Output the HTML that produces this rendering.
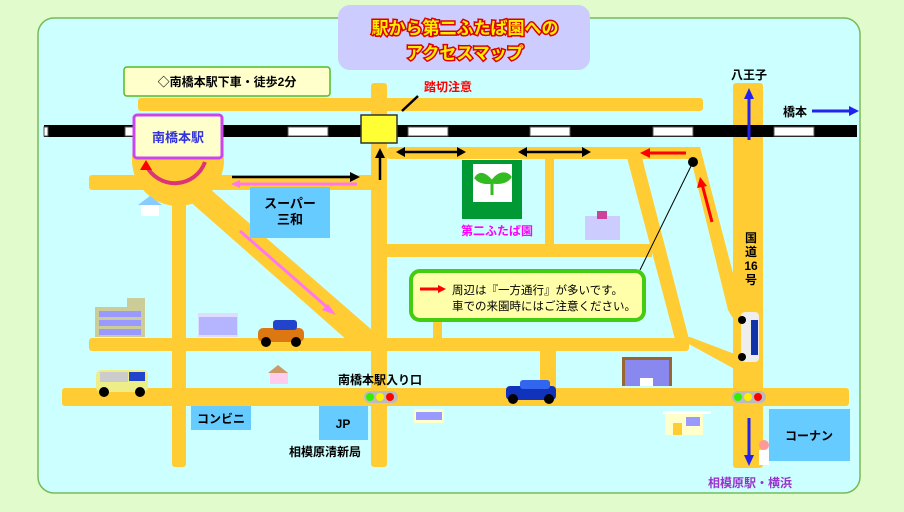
<!DOCTYPE html><html><head><meta charset="utf-8"><style>
body{margin:0;width:904px;height:507px;overflow:hidden;background:#e2fbcc;font-family:"Liberation Sans","Noto Sans CJK JP",sans-serif}
svg text{font-family:"Liberation Sans","Noto Sans CJK JP",sans-serif;font-weight:bold}
</style></head><body>
<svg width="904" height="507" viewBox="0 0 904 507" xmlns="http://www.w3.org/2000/svg">
<rect x="0" y="0" width="904" height="507" fill="#e2fbcc"/>
<rect x="38" y="18" width="822" height="475" rx="16" fill="#ccffff" stroke="#77bb55" stroke-width="1.5"/>
<g fill="#ffcc33">
<rect x="138" y="98" width="565" height="13" rx="3"/>
<rect x="371" y="83" width="16" height="384" rx="3"/>
<circle cx="178" cy="160" r="46"/>
<rect x="89" y="175" width="290" height="15" rx="3"/>
<rect x="387" y="147" width="312" height="12" rx="3"/>
<rect x="172" y="175" width="14" height="292" rx="3"/>
<polygon points="186,182 202,182 372,330 372,348 356,348 186,198"/>
<rect x="89" y="338" width="600" height="13" rx="3"/>
<rect x="387" y="244" width="265" height="13"/>
<rect x="545" y="150" width="9" height="100"/>
<polygon points="625,150 640,150 690,343 676,343"/>
<polygon points="688,147 700,147 740,300 740,330 728,310"/>
<polygon points="676,337 690,337 740,356 740,372"/>
<rect x="733" y="83" width="30" height="385" rx="3"/>
<rect x="62" y="388" width="787" height="18" rx="3"/>
<rect x="540" y="345" width="16" height="48"/>
<rect x="433" y="315" width="9" height="30"/>
</g>
<!-- rail -->
<rect x="44" y="125" width="813" height="12" fill="#000"/>
<g fill="#fff" stroke="#555" stroke-width="1">
<rect x="44" y="127" width="4" height="9"/><rect x="125" y="127" width="40" height="9"/><rect x="288" y="127" width="40" height="9"/><rect x="408" y="127" width="40" height="9"/><rect x="530" y="127" width="40" height="9"/><rect x="653" y="127" width="40" height="9"/><rect x="774" y="127" width="40" height="9"/>
</g>
<rect x="361" y="115" width="36" height="28" fill="#ffff33" stroke="#333" stroke-width="1.5"/>
<line x1="402" y1="111" x2="418" y2="96" stroke="#000" stroke-width="2.5"/>
<text x="424" y="91" font-size="12" fill="#ff0000">踏切注意</text>
<!-- station -->
<rect x="134" y="115" width="88" height="43" rx="3" fill="#ffffcc" stroke="#cc44ee" stroke-width="3"/>
<text x="178" y="142" font-size="13" fill="#3333dd" text-anchor="middle">南橋本駅</text>
<path d="M205,162 A32,32 0 0 1 146,165" stroke="#dd3377" stroke-width="4" fill="none"/>
<polygon points="146,160 140,170 152,170" fill="#ff0000"/>
<!-- arrows -->
<g stroke="#000" stroke-width="2.5">
<line x1="232" y1="177" x2="354" y2="177"/><line x1="380" y1="180" x2="380" y2="155"/>
<line x1="400" y1="152" x2="462" y2="152"/><line x1="522" y1="152" x2="587" y2="152"/>
</g>
<g fill="#000">
<polygon points="360,177 350,172 350,182"/><polygon points="380,148 375,158 385,158"/>
<polygon points="396,152 405,147 405,157"/><polygon points="466,152 457,147 457,157"/>
<polygon points="518,152 527,147 527,157"/><polygon points="591,152 582,147 582,157"/>
</g>
<line x1="238" y1="184" x2="357" y2="184" stroke="#ff77ee" stroke-width="3"/>
<polygon points="231,184 240,180 240,188" fill="#ff77ee"/>
<line x1="240" y1="231" x2="328" y2="308" stroke="#ff77ee" stroke-width="3"/>
<polygon points="336,315 322,310 328,304" fill="#ff77ee"/>
<line x1="686" y1="153" x2="650" y2="153" stroke="#ff0000" stroke-width="3"/>
<polygon points="640,153 650,148 650,158" fill="#ff0000"/>
<line x1="712" y1="222" x2="702" y2="184" stroke="#ff0000" stroke-width="3"/>
<polygon points="700,177 697,188 707,186" fill="#ff0000"/>
<circle cx="693" cy="162" r="5" fill="#000"/>
<line x1="693" y1="162" x2="640" y2="270" stroke="#000" stroke-width="1"/>
<!-- blue arrows -->
<line x1="749" y1="140" x2="749" y2="95" stroke="#2222ee" stroke-width="3"/>
<polygon points="749,88 744,99 754,99" fill="#2222ee"/>
<line x1="812" y1="111" x2="852" y2="111" stroke="#2222ee" stroke-width="3"/>
<polygon points="859,111 849,106 849,116" fill="#2222ee"/>
<line x1="749" y1="418" x2="749" y2="460" stroke="#2222ee" stroke-width="3"/>
<polygon points="749,466 744,455 754,455" fill="#2222ee"/>
<text x="749" y="79" font-size="12" fill="#000" text-anchor="middle">八王子</text>
<text x="795" y="116" font-size="12" fill="#000" text-anchor="middle">橋本</text>
<g font-size="12" fill="#000" text-anchor="middle"><text x="751" y="242">国</text><text x="751" y="256">道</text><text x="751" y="270">16</text><text x="751" y="284">号</text></g>
<!-- title -->
<rect x="338" y="5" width="252" height="65" rx="12" fill="#ccccff"/>
<g font-size="17" text-anchor="middle" font-weight="bold"><text x="465" y="34" fill="#dd0000" stroke="#dd0000" stroke-width="3">駅から第二ふたば園への</text><text x="465" y="34" fill="#ffee00">駅から第二ふたば園への</text>
<text x="465" y="59" fill="#dd0000" stroke="#dd0000" stroke-width="3">アクセスマップ</text><text x="465" y="59" fill="#ffee00">アクセスマップ</text></g>
<rect x="124" y="67" width="206" height="29" rx="3" fill="#ffffcc" stroke="#55bb22" stroke-width="1.5"/>
<text x="227" y="86" font-size="12" fill="#000" text-anchor="middle">◇南橋本駅下車・徒歩2分</text>
<!-- supermarket -->
<rect x="250" y="187" width="80" height="51" fill="#66ccff"/>
<text x="290" y="208" font-size="13" fill="#000" text-anchor="middle">スーパー</text>
<text x="290" y="224" font-size="13" fill="#000" text-anchor="middle">三和</text>
<!-- garden -->
<rect x="462" y="160" width="60" height="59" fill="#009933"/>
<rect x="473" y="164" width="39" height="38" fill="#fff"/>
<path d="M492,195 V182 M492,182 C482,170 478,175 476,178 C480,183 488,183 492,182 C500,170 508,174 510,177 C506,183 497,183 492,182" stroke="#33bb22" stroke-width="3" fill="#33bb22"/>
<text x="497" y="235" font-size="12" fill="#ff00ff" text-anchor="middle">第二ふたば園</text>
<!-- callout -->
<rect x="411" y="271" width="233" height="49" rx="9" fill="#ffffaa" stroke="#44cc11" stroke-width="4"/>
<line x1="420" y1="289" x2="440" y2="289" stroke="#ff0000" stroke-width="3"/><polygon points="446,289 438,285 438,293" fill="#ff0000"/>
<text x="452" y="294" font-size="11.5" fill="#000" style="font-weight:normal">周辺は『一方通行』が多いです。</text>
<text x="452" y="310" font-size="11.5" fill="#000" style="font-weight:normal">車での来園時にはご注意ください。</text>
<!-- buildings -->
<rect x="95" y="307" width="50" height="30" fill="#cccc99"/><rect x="127" y="298" width="18" height="10" fill="#cccc99"/>
<g fill="#9999ff"><rect x="99" y="311" width="42" height="6"/><rect x="99" y="320" width="42" height="6"/><rect x="99" y="329" width="42" height="6"/></g>
<rect x="198" y="313" width="40" height="24" fill="#ddddff"/><rect x="199" y="317" width="38" height="18" fill="#9999ff" opacity="0.6"/>
<rect x="585" y="216" width="35" height="24" fill="#ccccff"/><rect x="597" y="211" width="10" height="8" fill="#cc4499"/>
<rect x="622" y="357" width="50" height="29" fill="#996633"/><rect x="625" y="360" width="44" height="26" fill="#8888ee"/><rect x="640" y="378" width="13" height="8" fill="#fff"/>
<rect x="665" y="413" width="38" height="22" fill="#ffffcc"/><rect x="663" y="411" width="48" height="3" fill="#fff"/><rect x="673" y="423" width="9" height="12" fill="#ffcc33"/><rect x="686" y="417" width="14" height="9" fill="#9999ff"/>
<rect x="414" y="409" width="30" height="14" fill="#ffffcc"/><rect x="416" y="412" width="26" height="8" fill="#9999ff"/>
<rect x="141" y="204" width="18" height="12" fill="#fff"/><polygon points="138,205 150,196 162,205" fill="#88ccff"/>
<rect x="270" y="372" width="18" height="12" fill="#ffccee"/><polygon points="268,373 278,365 288,373" fill="#cc9966"/>
<!-- cars -->
<rect x="96" y="370" width="52" height="22" rx="5" fill="#eeee88"/><rect x="100" y="372" width="28" height="10" fill="#cccccc"/><rect x="129" y="372" width="16" height="9" fill="#2244cc"/>
<circle cx="104" cy="392" r="5" fill="#000"/><circle cx="140" cy="392" r="5" fill="#000"/>
<rect x="258" y="328" width="46" height="14" rx="5" fill="#dd7711"/><rect x="273" y="320" width="24" height="10" rx="3" fill="#2244cc"/>
<circle cx="266" cy="342" r="5" fill="#000"/><circle cx="296" cy="342" r="5" fill="#000"/>
<rect x="506" y="386" width="50" height="14" rx="4" fill="#1133bb"/><rect x="520" y="380" width="30" height="9" rx="3" fill="#3366ee"/>
<circle cx="513" cy="399" r="5" fill="#000"/><circle cx="549" cy="399" r="5" fill="#000"/>
<rect x="741" y="312" width="18" height="50" rx="4" fill="#eeeeee"/><rect x="751" y="320" width="7" height="35" fill="#1133aa"/>
<circle cx="742" cy="320" r="4" fill="#000"/><circle cx="742" cy="357" r="4" fill="#000"/>
<!-- signals -->
<rect x="364" y="391" width="34" height="12" rx="6" fill="#bbbbbb"/><circle cx="370" cy="397" r="4" fill="#33ee00"/><circle cx="380" cy="397" r="4" fill="#ffee00"/><circle cx="390" cy="397" r="4" fill="#ff0000"/>
<rect x="732" y="391" width="34" height="12" rx="6" fill="#bbbbbb"/><circle cx="738" cy="397" r="4" fill="#33ee00"/><circle cx="748" cy="397" r="4" fill="#ffee00"/><circle cx="758" cy="397" r="4" fill="#ff0000"/>
<text x="380" y="384" font-size="12" fill="#000" text-anchor="middle">南橋本駅入り口</text>
<!-- bottom boxes -->
<rect x="191" y="406" width="60" height="24" fill="#66ccff"/><text x="221" y="423" font-size="12" fill="#000" text-anchor="middle">コンビニ</text>
<rect x="319" y="406" width="49" height="34" fill="#66ccff"/><text x="343" y="428" font-size="12" fill="#000" text-anchor="middle">JP</text>
<text x="325" y="456" font-size="12" fill="#000" text-anchor="middle">相模原清新局</text>
<rect x="769" y="409" width="81" height="52" fill="#66ccff"/><text x="809" y="440" font-size="12" fill="#000" text-anchor="middle">コーナン</text>
<rect x="759" y="450" width="10" height="15" fill="#fff"/><circle cx="764" cy="445" r="5" fill="#ff9999"/>
<text x="750" y="487" font-size="12" fill="#9933cc" text-anchor="middle">相模原駅・横浜</text>
</svg>
</body></html>
